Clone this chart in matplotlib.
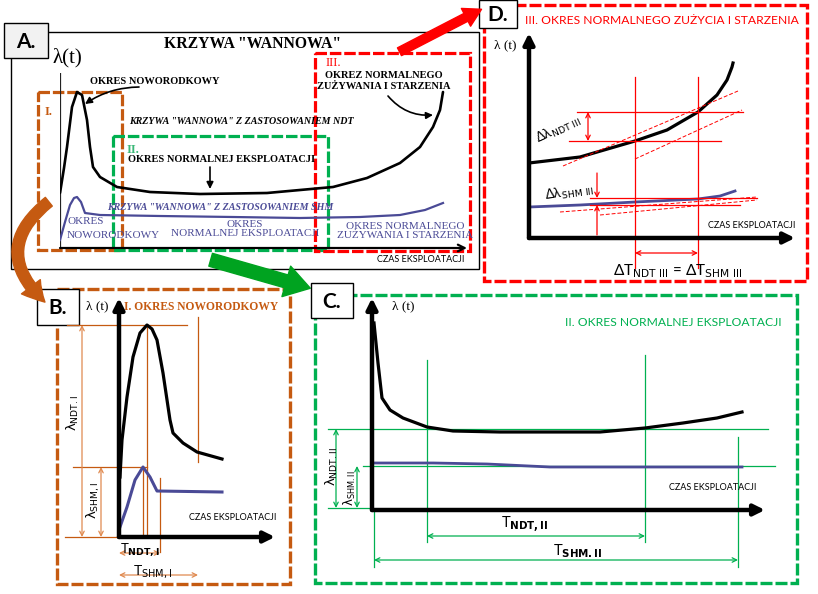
import matplotlib
matplotlib.use("Agg")
import matplotlib.pyplot as plt
from matplotlib.patches import Rectangle, FancyArrowPatch
import numpy as np

W, H = 818, 594

# ---- data: panel A (whole bathtub curve), t / lambda measured from the axis origin ----
a_ndt_t = [0, 4, 7, 12, 17, 22, 27, 30, 33, 40, 57, 90, 140, 207, 273, 307, 340, 360, 373, 380, 383]
a_ndt_l = [55, 80, 101, 141, 156, 153, 128, 101, 81, 71, 61, 56, 54, 55, 61, 70, 85, 101, 121, 138, 156]
a_shm_t = [0, 5, 10, 14, 17, 21, 25, 40, 100, 173, 240, 300, 340, 365, 383]
a_shm_l = [8, 26, 43, 50, 51, 46, 35, 33, 32, 31, 30, 31, 33, 38, 45]

# ---- panel B (I. infant period) ----
b_ndt_t = [1, 3, 8, 14, 21, 28, 33, 38, 44, 51, 54, 64, 78, 103]
b_ndt_l = [60, 97, 140, 180, 204, 212, 208, 197, 164, 117, 104, 94, 85, 78]
b_shm_t = [1, 8, 16, 24, 31, 38, 103]
b_shm_l = [10, 30, 57, 70, 60, 46, 45]

# ---- panel C (II. normal operation) ----
c_ndt_t = [2, 6, 10, 18, 31, 55, 81, 128, 228, 273, 311, 345, 370]
c_ndt_l = [187, 147, 112, 100, 92, 83, 79, 78, 78, 82, 87, 92, 98]
c_shm_t = [2, 61, 115, 178, 370]
c_shm_l = [47, 47, 46, 43, 43]

# ---- panel D (III. wear-out period) ----
d_ndt_t = [0, 51, 106, 138, 169, 188, 198, 203, 204]
d_ndt_l = [75, 81, 97, 108, 126, 143, 158, 171, 175]
d_shm_t = [0, 51, 106, 169, 191, 206]
d_shm_l = [31, 33, 36, 39, 42, 47]
d_marks = [106, 169]  # the two time instants (Delta T)

BROWN = "#c55a11"
LBROWN = "#e08a50"
GREEN = "#00b050"
RED = "#ff0000"
BLUE = "#4a4a96"
SERIF = ["Liberation Serif", "DejaVu Serif"]
SANS = ["Lato", "DejaVu Sans"]

fig = plt.figure(figsize=(W / 100, H / 100), dpi=100)
ax = fig.add_axes([0, 0, 1, 1])
ax.set_xlim(0, W)
ax.set_ylim(H, 0)
ax.axis("off")


def chart_axes(ox, oy, w, h):
    # axes whose origin sits on the pixel (ox, oy), 1 unit = 1 pixel
    a = fig.add_axes([ox / W, (H - oy) / H, w / W, h / H])
    a.set_xlim(0, w)
    a.set_ylim(0, h)
    a.axis("off")
    return a


def dbox(x0, y0, x1, y1, color, lw=2.3):
    ax.add_patch(Rectangle((x0, y0), x1 - x0, y1 - y0, fill=False, ec=color, lw=lw,
                           ls=(0, (3.6, 0.9)), zorder=3))


def label_box(x0, y0, x1, y1, text, fc="white"):
    ax.add_patch(Rectangle((x0, y0), x1 - x0, y1 - y0, fc=fc, ec="black", lw=1.0, zorder=6))
    ax.text((x0 + x1) / 2, (y0 + y1) / 2 + 1, text, ha="center", va="center", fontsize=15,
            fontweight="bold", family=SANS, zorder=7)


def darrow(a, p0, p1, color, lw=0.9, ms=8):
    a.annotate("", xy=p1, xytext=p0, annotation_clip=False,
               arrowprops=dict(arrowstyle="<->", color=color, lw=lw, mutation_scale=ms,
                               shrinkA=0, shrinkB=0))


def axis_arrows(a, w, h, lw=3.2, ms=16):
    for xy in [(w, 0), (0, h)]:
        a.annotate("", xy=xy, xytext=(0, 0), annotation_clip=False,
                   arrowprops=dict(arrowstyle="-|>", color="black", lw=lw, mutation_scale=ms,
                                   shrinkA=0, shrinkB=0))


# ================= panel A =================
ax.add_patch(Rectangle((11, 32), 468, 237, fill=False, ec="black", lw=1.0))
label_box(4, 23, 48, 58, "A.", fc="#f2f2f2")
ax.text(253, 44, 'KRZYWA "WANNOWA"', ha="center", va="center", fontsize=11.3,
        fontweight="bold", family=SERIF)
ax.text(67, 58, "λ(t)", ha="center", va="center", fontsize=15, family=SERIF)

aA = chart_axes(60, 248, 407, 175)
aA.plot([0, 0], [0, 175], color="#222222", lw=1.6)
aA.annotate("", xy=(407, 0), xytext=(0, 0), annotation_clip=False,
            arrowprops=dict(arrowstyle="->", color="black", lw=1.6, mutation_scale=12,
                            shrinkA=0, shrinkB=0))
aA.plot(a_ndt_t, a_ndt_l, color="black", lw=1.9, solid_capstyle="round")
aA.plot(a_shm_t, a_shm_l, color=BLUE, lw=1.6)

dbox(38, 92, 122, 250, BROWN)
dbox(113, 136, 328, 250, GREEN)
dbox(315, 53, 470, 251, RED)
ax.text(45, 112, "I.", color=BROWN, fontsize=9, fontweight="bold", family=SERIF, va="center")
ax.text(127, 150, "II.", color="#3cb878", fontsize=9, fontweight="bold", family=SERIF, va="center")
ax.text(326, 63, "III.", color=RED, fontsize=9, family=SERIF, va="center")

ax.text(155, 81, "OKRES NOWORODKOWY", ha="center", va="center", fontsize=7.5,
        fontweight="bold", family=SERIF)
ax.annotate("", xy=(85, 104), xytext=(139, 87),
            arrowprops=dict(arrowstyle="-|>", color="black", lw=1.2, mutation_scale=10,
                            connectionstyle="arc3,rad=0.15", shrinkA=0, shrinkB=0))
ax.text(129, 122, 'KRZYWA "WANNOWA" Z ZASTOSOWANIEM NDT', ha="left", va="center",
        fontsize=7.2, fontweight="bold", style="italic", family=SERIF)
ax.text(222, 160, "OKRES NORMALNEJ EKSPLOATACJI", ha="center", va="center", fontsize=7.5,
        fontweight="bold", family=SERIF)
ax.annotate("", xy=(210, 189), xytext=(210, 167),
            arrowprops=dict(arrowstyle="-|>", color="black", lw=1.2, mutation_scale=10,
                            shrinkA=0, shrinkB=0))
ax.text(384, 81, "OKREZ NORMALNEGO\nZUŻYWANIA I STARZENIA", ha="center", va="center",
        fontsize=7.5, fontweight="bold", family=SERIF, linespacing=1.15)
ax.annotate("", xy=(433, 115), xytext=(388, 96),
            arrowprops=dict(arrowstyle="-|>", color="black", lw=1.2, mutation_scale=10,
                            connectionstyle="arc3,rad=0.25", shrinkA=0, shrinkB=0))
ax.text(107, 207, 'KRZYWA "WANNOWA" Z ZASTOSOWANIEM SHM', ha="left", va="center",
        fontsize=7.2, fontweight="bold", style="italic", family=SERIF, color=BLUE)
ax.text(68, 222, "OKRES", ha="left", va="center", fontsize=8, family=SERIF, color=BLUE)
ax.text(67, 235, "NOWORODKOWY", ha="left", va="center", fontsize=8, family=SERIF, color=BLUE)
ax.text(245, 229, "OKRES\nNORMALNEJ EKSPLOATACJI", ha="center", va="center", fontsize=8,
        family=SERIF, color=BLUE, linespacing=1.0)
ax.text(405, 231, "OKRES NORMALNEGO\nZUŻYWANIA I STARZENIA", ha="center", va="center",
        fontsize=8, family=SERIF, color=BLUE, linespacing=1.0)
ax.text(421, 259, "CZAS EKSPLOATACJI", ha="center", va="center", fontsize=6.5, family=SANS)

# ================= panel D =================
dbox(484, 5, 807, 281, RED, lw=2.4)
label_box(479, 0, 517, 28, "D.")
ax.text(662, 21, "III. OKRES NORMALNEGO ZUŻYCIA I STARZENIA", ha="center", va="center",
        fontsize=8.7, color=RED, family=SANS)
ax.text(505, 45, "λ (t)", ha="center", va="center", fontsize=9.5, family=SERIF)
aD = chart_axes(529, 238, 266, 205)
axis_arrows(aD, 266, 205)
aD.plot(d_ndt_t, d_ndt_l, color="black", lw=2.3)
aD.plot(d_shm_t, d_shm_l, color=BLUE, lw=2.0)
l1, l2 = np.interp(d_marks, d_ndt_t, d_ndt_l)
s1, s2 = np.interp(d_marks, d_shm_t, d_shm_l)
for tm in d_marks:
    aD.plot([tm, tm], [-30, 161], color=RED, lw=0.9, clip_on=False)
aD.plot([40, 192], [l1, l1], color=RED, lw=0.9)
aD.plot([48, 214], [l2, l2], color=RED, lw=0.9)
darrow(aD, (59, l1), (59, l2), RED)
aD.plot([34, 209], [72, 147], color=RED, lw=0.7, ls=(0, (4, 2)))
aD.plot([106, 213], [79, 128], color=RED, lw=0.7, ls=(0, (4, 2)))
aD.plot([61, 228], [s2 + 1, s2 + 1], color=RED, lw=0.9)
aD.plot([61, 211], [s1 - 3, s1 - 3], color=RED, lw=0.9)
aD.plot([31, 228], [26, 41], color=RED, lw=0.7, ls=(0, (4, 2)))
aD.plot([71, 228], [23, 38], color=RED, lw=0.7, ls=(0, (4, 2)))
aD.annotate("", xy=(68, s2 + 1), xytext=(68, 65),
            arrowprops=dict(arrowstyle="->", color=RED, lw=0.9, mutation_scale=8, shrinkA=0, shrinkB=0))
aD.annotate("", xy=(68, s1 - 3), xytext=(68, 3),
            arrowprops=dict(arrowstyle="->", color=RED, lw=0.9, mutation_scale=8, shrinkA=0, shrinkB=0))
darrow(aD, (d_marks[0], -15), (d_marks[1], -15), RED)
aD.text(29, 108, r"Δλ$_{\mathrm{NDT\ III}}$", rotation=25, ha="center", va="center",
        fontsize=9.5, family=SANS)
aD.text(40, 45, r"Δλ$_{\mathrm{SHM\ III}}$", rotation=8, ha="center", va="center",
        fontsize=9.5, family=SANS)
aD.text(223, 13, "CZAS EKSPLOATACJI", ha="center", va="center", fontsize=6.5, family=SANS)
aD.text(149, -33, r"ΔT$_{\mathrm{NDT\ III}}$ = ΔT$_{\mathrm{SHM\ III}}$",
        ha="center", va="center", fontsize=11, family=SANS)

# ================= panel B =================
dbox(57, 289, 290, 584, BROWN, lw=2.4)
aB = chart_axes(119, 537, 156, 239)
b_peak = max(b_ndt_l)
b_peak_t = b_ndt_t[b_ndt_l.index(b_peak)]
s_peak = max(b_shm_l)
s_peak_t = b_shm_t[b_shm_l.index(s_peak)]
aB.plot([-52, 68], [b_peak, b_peak], color=BROWN, lw=0.9, clip_on=False)
aB.plot([-46, s_peak_t + 4], [s_peak, s_peak], color=BROWN, lw=0.9, clip_on=False)
aB.plot([-54, 0], [0, 0], color=BROWN, lw=0.9, clip_on=False)
aB.plot([b_peak_t, b_peak_t], [0, b_peak], color=BROWN, lw=0.9)
aB.plot([s_peak_t, s_peak_t], [0, s_peak], color=BROWN, lw=0.9)
aB.plot([79, 79], [75, 220], color=BROWN, lw=0.9)
aB.plot([41, 41], [59, -15], color=BROWN, lw=0.9, clip_on=False)
aB.plot(b_ndt_t, b_ndt_l, color="black", lw=2.3)
aB.plot(b_shm_t, b_shm_l, color=BLUE, lw=2.2)
axis_arrows(aB, 156, 239)
darrow(aB, (-37, 0), (-37, b_peak), LBROWN)
darrow(aB, (-18, 0), (-18, s_peak), LBROWN)
darrow(aB, (0, -16), (41, -16), LBROWN)
darrow(aB, (0, -38), (79, -38), LBROWN)
aB.text(-46, 124, r"λ$_{\mathrm{NDT.I}}$", rotation=90, ha="center", va="center", fontsize=9.5)
aB.text(-26, 37, r"λ$_{\mathrm{SHM,I}}$", rotation=90, ha="center", va="center", fontsize=9.5)
aB.text(21, -13, r"T$_{\mathbf{NDT,I}}$", ha="center", va="center", fontsize=9.5, family=SANS)
aB.text(34, -35, r"T$_{\mathrm{SHM,I}}$", ha="center", va="center", fontsize=10, family=SANS)
aB.text(114, 19, "CZAS EKSPLOATACJI", ha="center", va="center", fontsize=6.5, family=SANS)
label_box(37, 289, 79, 325, "B.")
ax.text(97, 306, "λ (t)", ha="center", va="center", fontsize=9.5, family=SERIF)
ax.text(124, 307, "I. OKRES NOWORODKOWY", ha="left", va="center", fontsize=8.3,
        fontweight="bold", family=SERIF, color=BROWN)

# ================= panel C =================
dbox(315, 295, 797, 583, GREEN, lw=2.4)
aC = chart_axes(372, 510, 393, 212)
lvl_ndt = 81
lvl_shm = 44
aC.plot([-44, 396], [lvl_ndt, lvl_ndt], color=GREEN, lw=0.9, clip_on=False)
aC.plot([-9, 403], [lvl_shm, lvl_shm], color=GREEN, lw=0.9, clip_on=False)
aC.plot([-44, 0], [2, 2], color=GREEN, lw=0.9, clip_on=False)
aC.plot([55, 55], [-32, 150], color=GREEN, lw=0.9, clip_on=False)
aC.plot([273, 273], [-32, 155], color=GREEN, lw=0.9, clip_on=False)
aC.plot([366, 366], [-57, 73], color=GREEN, lw=0.9, clip_on=False)
aC.plot([2, 2], [0, -57], color=GREEN, lw=0.9, clip_on=False)
aC.plot(c_ndt_t, c_ndt_l, color="black", lw=2.3)
aC.plot(c_shm_t, c_shm_l, color=BLUE, lw=2.0)
axis_arrows(aC, 393, 212)
darrow(aC, (-36, 2), (-36, lvl_ndt), GREEN)
darrow(aC, (-15, 2), (-15, lvl_shm), GREEN)
darrow(aC, (55, -26), (273, -26), GREEN)
darrow(aC, (2, -50), (366, -50), GREEN)
aC.text(-40, 43, r"λ$_{\mathrm{NDT.II}}$", rotation=90, ha="center", va="center", fontsize=9.5)
aC.text(-22, 22, r"λ$_{\mathrm{SHM.II}}$", rotation=90, ha="center", va="center", fontsize=8.5)
aC.text(153, -15, r"T$_{\mathbf{NDT,II}}$", ha="center", va="center", fontsize=10.5, family=SANS)
aC.text(206, -41, r"T$_{\mathbf{SHM.II}}$", ha="center", va="center", fontsize=10.5, family=SANS)
aC.text(341, 22, "CZAS EKSPLOATACJI", ha="center", va="center", fontsize=6.5, family=SANS)
label_box(311, 283, 353, 318, "C.")
ax.text(403, 306, "λ (t)", ha="center", va="center", fontsize=9.5, family=SERIF)
ax.text(673, 322, "II. OKRES NORMALNEJ EKSPLOATACJI", ha="center", va="center",
        fontsize=8.7, color=GREEN, family=SANS)

# ================= connecting arrows =================
ax.add_patch(FancyArrowPatch((397, 53), (484, 8), arrowstyle="simple,head_width=1.6,head_length=1.4,tail_width=0.7",
                             mutation_scale=9, color=RED, zorder=8))
ax.add_patch(FancyArrowPatch((208, 259), (313, 289), arrowstyle="simple,head_width=1.9,head_length=1.5,tail_width=0.8",
                             mutation_scale=12, color="#00a320", zorder=8))
ax.add_patch(FancyArrowPatch((51, 200), (47, 304), arrowstyle="simple,head_width=1.7,head_length=1.5,tail_width=0.8",
                             mutation_scale=10, color=BROWN, connectionstyle="arc3,rad=0.6", zorder=8))

fig.savefig("out.png", dpi=100)
